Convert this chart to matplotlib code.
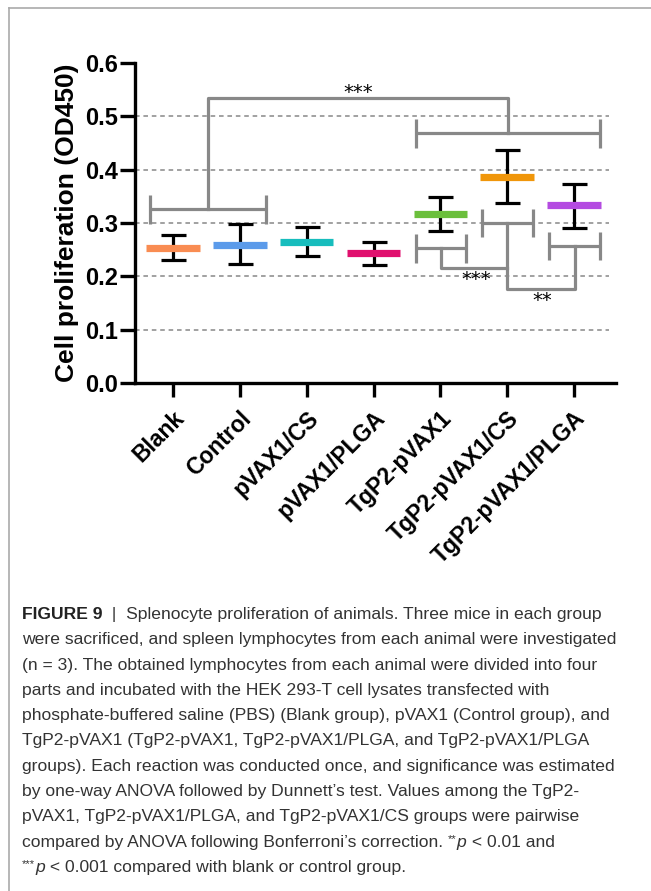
import matplotlib
matplotlib.use('Agg')
import matplotlib.pyplot as plt
from matplotlib.lines import Line2D

groups = ['Blank', 'Control', 'pVAX1/CS', 'pVAX1/PLGA',
          'TgP2-pVAX1', 'TgP2-pVAX1/CS', 'TgP2-pVAX1/PLGA']
means = [0.254, 0.259, 0.265, 0.244, 0.317, 0.387, 0.333]
upper = [0.278, 0.298, 0.293, 0.265, 0.348, 0.437, 0.374]
lower = [0.231, 0.223, 0.238, 0.221, 0.286, 0.337, 0.290]
colors = ['#F98C52', '#5B9BEA', '#17BDBD', '#E0106E',
          '#6BBF3C', '#F0960A', '#B44BE1']
yticks = [0.0, 0.1, 0.2, 0.3, 0.4, 0.5, 0.6]

caption = [
    [('FIGURE 9', 'b'), ('  |  Splenocyte proliferation of animals. Three mice in each group', 'r')],
    [('were sacrificed, and spleen lymphocytes from each animal were investigated', 'r')],
    [('(n = 3). The obtained lymphocytes from each animal were divided into four', 'r')],
    [('parts and incubated with the HEK 293-T cell lysates transfected with', 'r')],
    [('phosphate-buffered saline (PBS) (Blank group), pVAX1 (Control group), and', 'r')],
    [('TgP2-pVAX1 (TgP2-pVAX1, TgP2-pVAX1/PLGA, and TgP2-pVAX1/PLGA', 'r')],
    [('groups). Each reaction was conducted once, and significance was estimated', 'r')],
    [('by one-way ANOVA followed by Dunnett\u2019s test. Values among the TgP2-', 'r')],
    [('pVAX1, TgP2-pVAX1/PLGA, and TgP2-pVAX1/CS groups were pairwise', 'r')],
    [('compared by ANOVA following Bonferroni\u2019s correction. ', 'r'), ('**', 's'),
     ('p', 'i'), (' < 0.01 and', 'r')],
    [('***', 's'), ('p', 'i'), (' < 0.001 compared with blank or control group.', 'r')],
]

plt.rcParams['font.family'] = ['Liberation Sans', 'DejaVu Sans']

fig = plt.figure(figsize=(6.51, 8.91), dpi=100)
ax = fig.add_axes([0.2074, 0.5701, 0.7389, 0.3591])

x = list(range(len(groups)))
yerr = [[m - l for m, l in zip(means, lower)], [u - m for m, u in zip(means, upper)]]
ax.errorbar(x, means, yerr=yerr, fmt='none', ecolor='black', elinewidth=2.3,
            capsize=9, capthick=2.3, zorder=3)
for xi, m, c in zip(x, means, colors):
    ax.hlines(m, xi - 0.4, xi + 0.4, colors=c, linewidth=5.2, zorder=4)

for t in yticks[1:-1]:
    ax.axhline(t, xmax=0.985, color='#888888', linestyle=(0, (3, 2.5)), linewidth=1.1, zorder=1)

ax.set_xlim(-0.57, 6.63)
ax.set_ylim(0, 0.6)
ax.set_yticks(yticks)
ax.set_yticklabels([f'{t:.1f}' for t in yticks], fontsize=17, fontweight='bold')
ax.set_xticks(x)
ax.set_xticklabels(groups, rotation=45, ha='right', rotation_mode='anchor',
                   fontsize=16.5, fontweight='bold')
ax.set_ylabel('Cell proliferation (OD450)', fontsize=19, fontweight='bold', labelpad=4)
for s in ['top', 'right']:
    ax.spines[s].set_visible(False)
for s in ['left', 'bottom']:
    ax.spines[s].set_linewidth(2.4)
ax.tick_params(axis='y', width=2.4, length=11, pad=1.5)
ax.tick_params(axis='x', width=2.4, length=10, pad=7)

# significance brackets
gc = '#888888'
lw = 2.3


def bracket(x0, x1, y, h):
    ax.plot([x0, x1], [y, y], color=gc, lw=lw, solid_capstyle='butt', zorder=2)
    ax.plot([x0, x0], [y - h, y + h], color=gc, lw=lw, solid_capstyle='butt', zorder=2)
    ax.plot([x1, x1], [y - h, y + h], color=gc, lw=lw, solid_capstyle='butt', zorder=2)


# Blank + Control vs TgP2 groups
b1 = (x[0] - 0.34, x[1] + 0.39)
b2 = (x[4] - 0.37, x[6] + 0.39)
c1 = (b1[0] + b1[1]) / 2
c2 = (b2[0] + b2[1]) / 2
bracket(*b1, 0.326, 0.027)
bracket(*b2, 0.468, 0.027)
ax.plot([c1, c1, c2, c2], [0.326, 0.534, 0.534, 0.468], color=gc, lw=lw, zorder=2)
ax.text(x[2] + 0.77, 0.535, '***', ha='center', va='baseline', fontsize=14,
        family='DejaVu Sans')

# pairwise among TgP2 groups
b3 = (x[4] - 0.37, x[4] + 0.39)
b4 = (x[5] - 0.38, x[5] + 0.38)
b5 = (x[6] - 0.37, x[6] + 0.39)
bracket(*b3, 0.253, 0.027)
bracket(*b4, 0.300, 0.027)
bracket(*b5, 0.257, 0.027)
c3 = (b3[0] + b3[1]) / 2
c4 = (b4[0] + b4[1]) / 2
c5 = (b5[0] + b5[1]) / 2
ax.plot([c3, c3, c4], [0.253, 0.215, 0.215], color=gc, lw=lw, zorder=2)
ax.plot([c4, c4, c5, c5], [0.300, 0.176, 0.176, 0.257], color=gc, lw=lw, zorder=2)
ax.text(x[4] + 0.53, 0.212, '***', ha='center', va='top', fontsize=14,
        family='DejaVu Sans')
ax.text(x[5] + 0.52, 0.172, '**', ha='center', va='top', fontsize=14,
        family='DejaVu Sans')

# border of the figure panel
fig.add_artist(Line2D([9 / 651, 9 / 651], [0, 1 - 8 / 891], color='#aaaaaa', lw=1.2))
fig.add_artist(Line2D([9 / 651, 1], [1 - 8 / 891, 1 - 8 / 891], color='#aaaaaa', lw=1.2))

# caption
fig.canvas.draw()
renderer = fig.canvas.get_renderer()
styles = {
    'r': dict(fontsize=12.6, family='Liberation Sans', color='#333333'),
    'b': dict(fontsize=12.6, family='Liberation Sans', fontweight='bold', color='#222222'),
    'i': dict(fontsize=12.6, family='Liberation Sans', style='italic', color='#333333'),
    's': dict(fontsize=8, family='Liberation Sans', color='#333333'),
}
y0 = 1 - 619 / 891
dy = 25.3 / 891
for i, line in enumerate(caption):
    xpos = 22 / 651
    ybase = y0 - i * dy
    for txt, st in line:
        yy = ybase + (5 / 891 if st == 's' else 0)
        t = fig.text(xpos, yy, txt, va='baseline', ha='left', **styles[st])
        bb = t.get_window_extent(renderer)
        xpos += bb.width / fig.bbox.width

fig.savefig('out.png', dpi=100)
